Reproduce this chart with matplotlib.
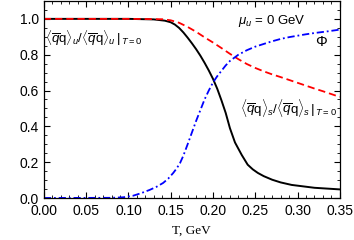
import numpy as np
from matplotlib import pyplot as plt
from matplotlib.ticker import MultipleLocator

# chiral condensate of light quarks (normalized)
t_u = [0.0, 0.10, 0.13, 0.143, 0.15, 0.155, 0.16, 0.165, 0.17, 0.175, 0.18, 0.185, 0.19,
       0.195, 0.20, 0.205, 0.21, 0.215, 0.22, 0.226, 0.234, 0.241, 0.247, 0.253, 0.26,
       0.27, 0.28, 0.293, 0.32, 0.35]
cond_u = [1.0, 1.0, 0.997, 0.99, 0.981, 0.968, 0.949, 0.924, 0.895, 0.864, 0.831, 0.795,
          0.755, 0.712, 0.665, 0.61, 0.545, 0.475, 0.39, 0.31, 0.24, 0.186, 0.16, 0.14,
          0.122, 0.102, 0.087, 0.073, 0.057, 0.048]

# strange quark condensate (normalized)
t_s = [0.0, 0.10, 0.14, 0.15, 0.16, 0.17, 0.18, 0.19, 0.20, 0.21, 0.22, 0.23, 0.24, 0.25,
       0.26, 0.27, 0.28, 0.29, 0.30, 0.31, 0.32, 0.33, 0.34, 0.35]
cond_s = [1.0, 1.0, 0.998, 0.992, 0.978, 0.955, 0.928, 0.897, 0.868, 0.837, 0.805, 0.775,
          0.748, 0.726, 0.707, 0.69, 0.675, 0.659, 0.643, 0.627, 0.611, 0.596, 0.58, 0.564]

# Polyakov loop
t_phi = [0.0, 0.08, 0.094, 0.105, 0.115, 0.125, 0.133, 0.141, 0.147, 0.153, 0.157, 0.161,
         0.165, 0.17, 0.175, 0.18, 0.185, 0.19, 0.195, 0.20, 0.205, 0.21, 0.215, 0.22,
         0.23, 0.24, 0.25, 0.26, 0.27, 0.28, 0.29, 0.30, 0.31, 0.32, 0.335, 0.35]
phi = [0.0, 0.001, 0.004, 0.012, 0.027, 0.045, 0.062, 0.084, 0.108, 0.14, 0.165, 0.195,
       0.237, 0.30, 0.365, 0.43, 0.49, 0.55, 0.60, 0.645, 0.68, 0.71, 0.74, 0.765,
       0.80, 0.825, 0.845, 0.86, 0.875, 0.888, 0.898, 0.906, 0.914, 0.921, 0.93, 0.94]

x_ticks = [0.0, 0.05, 0.10, 0.15, 0.20, 0.25, 0.30, 0.35]
x_labels = ["0.00", "0.05", "0.10", "0.15", "0.20", "0.25", "0.30", "0.35"]
y_ticks = [0.0, 0.2, 0.4, 0.6, 0.8, 1.0]
y_labels = ["0.0", "0.2", "0.4", "0.6", "0.8", "1.0"]

plt.rcParams["font.family"] = ["Liberation Sans", "DejaVu Sans"]
plt.rcParams["mathtext.fontset"] = "custom"
plt.rcParams["mathtext.rm"] = "Liberation Sans"
plt.rcParams["mathtext.it"] = "Liberation Sans:italic"

fig = plt.figure(figsize=(3.54, 2.40), dpi=100)
ax = fig.add_axes([0.124, 0.175, 0.836, 0.821])

ax.plot(t_u, cond_u, color="black", lw=1.4)
ax.plot(t_s, cond_s, color="red", lw=1.3, dashes=(4, 2.2))
ax.plot(t_phi, phi, color="blue", lw=1.3, dashes=(4, 1.6, 1, 1.6))

ax.set_xlim(0, 0.35)
ax.set_ylim(0, 1.1)
ax.set_xticks(x_ticks)
ax.set_xticklabels(x_labels)
ax.set_yticks(y_ticks)
ax.set_yticklabels(y_labels)
ax.xaxis.set_minor_locator(MultipleLocator(0.01))
ax.yaxis.set_minor_locator(MultipleLocator(0.05))
ax.tick_params(which="both", direction="in", top=True, right=True, labelsize=10)
ax.tick_params(axis="x", pad=4)
ax.tick_params(axis="y", pad=3.5)
ax.tick_params(which="major", length=4, width=0.8)
ax.tick_params(which="minor", length=2.2, width=0.6)
for s in ax.spines.values():
    s.set_linewidth(0.9)

ax.set_xlabel("T, GeV", family="Liberation Serif", fontsize=9.5, labelpad=5)

ax.text(0.269, 0.99, r"$\mu_u$ = 0 GeV", fontsize=9.5, ha="center", va="center")
ax.text(0.328, 0.87, r"$\Phi$", fontsize=10.5, ha="center", va="center")
ax.text(0.001, 0.894,
        r"$\langle\overline{q}\mathrm{q}\rangle_u/\langle\overline{q}\mathrm{q}\rangle_u\,|_{\,T=0}$",
        fontsize=9.5, ha="left", va="center")
ax.text(0.346, 0.503,
        r"$\langle\overline{q}\mathrm{q}\rangle_s/\langle\overline{q}\mathrm{q}\rangle_s\,|_{\,T=0}$",
        fontsize=9.6, ha="right", va="center")

fig.savefig("out.png", dpi=100)
